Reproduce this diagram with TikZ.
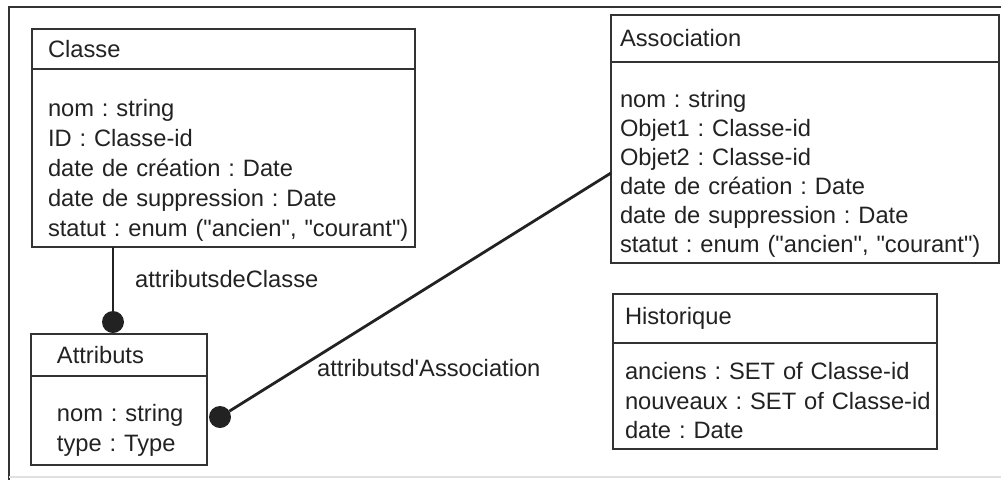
\documentclass[tikz,border=0pt]{standalone}
\usepackage{fontspec}
\setmainfont{Liberation Sans}[Ligatures=TeXOff]
\usetikzlibrary{positioning,calc}
\definecolor{ink}{HTML}{222222}
\definecolor{rule}{HTML}{333333}
\tikzset{
  every node/.style={font=\fontsize{23.7}{30}\selectfont\frenchspacing, text=ink},
  classhead/.style={
    draw=rule, line width=2.8pt, outer sep=0pt,
    anchor=north west, align=left, inner ysep=0pt, inner xsep=2pt
  },
  classbody/.style={
    draw=rule, line width=2.8pt, outer sep=0pt,
    below=0pt of #1, align=left, inner ysep=0pt, inner xsep=2pt
  },
  indent/.style={execute at begin node={\leftskip=#1}},
  dot/.style={
    circle, fill=ink, inner sep=0pt, outer sep=0pt, minimum size=22pt
  },
  link/.style={draw=ink, line width=2.8pt},
  frame/.style={draw=rule, line width=2.4pt},
  lbl/.style={anchor=base west, inner sep=0pt},
}
\begin{document}
\begin{tikzpicture}[x=1pt,y=-1pt]
  \useasboundingbox (0,0) rectangle (1001,480);
  \draw[frame] (1001,7) -- (9,7) -- (9,480);
  \draw[frame, draw=black!12] (9,477) -- (1001,477);

  % Classe
  \node[classhead, text width=379pt, indent=14pt, minimum height=40pt] (clhead) at (32,29) {Classe};
  \node[classbody=clhead, text width=379pt, indent=14pt, minimum height=178pt] (clbody) {\rule{0pt}{41pt}nom : string\\ID : Classe-id\\date de création : Date\\date de suppression : Date\\statut : enum ("ancien", "courant")};

  % Association
  \node[classhead, text width=384pt, indent=7pt, minimum height=47pt] (ashead) at (611,15) {Association};
  \node[classbody=ashead, text width=384pt, indent=7pt, minimum height=201pt, font=\fontsize{23.7}{29}\selectfont\frenchspacing] (asbody) {\rule{0pt}{39pt}nom : string\\Objet1 : Classe-id\\Objet2 : Classe-id\\date de création : Date\\date de suppression : Date\\statut : enum ("ancien", "courant")};

  % Attributs
  \node[classhead, text width=172pt, indent=24pt, minimum height=42pt] (athead) at (31,334) {Attributs};
  \node[classbody=athead, text width=172pt, indent=24pt, minimum height=89pt] (atbody) {\rule{0pt}{36pt}nom : string\\type : Type};

  % Historique
  \node[classhead, text width=320pt, indent=10pt, minimum height=49pt] (hihead) at (613,294) {Historique};
  \node[classbody=hihead, text width=320pt, indent=10pt, minimum height=106pt, font=\fontsize{23.7}{29.5}\selectfont\frenchspacing] (hibody) {\rule{0pt}{27pt}anciens : SET of Classe-id\\nouveaux : SET of Classe-id\\date : Date};

  % liens
  \node[dot] (dotcl) at (113,322) {};
  \node[dot] (dotas) at (220,417) {};
  \coordinate (asend) at (611,173);
  \draw[link] (clbody.south -| dotcl.center) -- (dotcl);
  \draw[link] (dotas) -- (asend);
  \node[lbl] (lblcl) at (135,287) {attributsdeClasse};
  \node[lbl] (lblas) at (317,376) {attributsd'Association};
\end{tikzpicture}
\end{document}
